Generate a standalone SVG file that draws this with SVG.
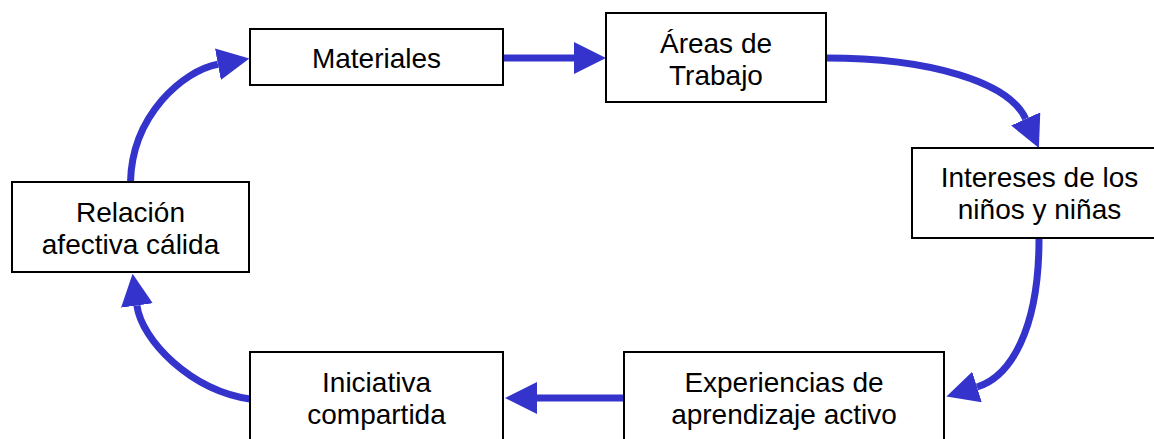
<svg xmlns="http://www.w3.org/2000/svg" width="1154" height="439" viewBox="0 0 1154 439">
<style>
.box{fill:#fff;stroke:#000;stroke-width:2}
.lbl{font-family:"Liberation Sans",Arial,sans-serif;font-size:28px;fill:#000;text-anchor:middle}
.con{fill:none;stroke:#3434CC;stroke-width:7;marker-end:url(#ah)}
</style>
<defs>
<marker id="ah" markerUnits="userSpaceOnUse" viewBox="0 0 32 32" markerWidth="32" markerHeight="32" refX="0" refY="16" orient="auto">
<path d="M0,0 L32,16 L0,32 z" fill="#3434CC"/>
</marker>
</defs>
<rect width="1154" height="439" fill="#fff"/>
<g id="connectors">
<path class="con" d="M503,58 L574,58"/>
<path class="con" d="M826,58 C930,58 1009,82 1025.7,118.9"/>
<path class="con" d="M1039,239 C1039,330 1010.4,376.6 977,387"/>
<path class="con" d="M624,398 L537,398"/>
<path class="con" d="M250,399 C190,390 141.6,340 136.9,305.5"/>
<path class="con" d="M130.5,182 C132,115 183.5,70.5 217.9,64.2"/>
</g>
<g id="materiales">
<rect class="box" x="250" y="29" width="253" height="56"/>
<text class="lbl" x="376.5" y="68">Materiales</text>
</g>
<g id="areas">
<rect class="box" x="606" y="13" width="220" height="89"/>
<text class="lbl" x="716" y="52.5">Áreas de</text>
<text class="lbl" x="716" y="85">Trabajo</text>
</g>
<g id="intereses">
<rect class="box" x="912" y="148" width="255" height="90"/>
<text class="lbl" x="1039.5" y="187">Intereses de los</text>
<text class="lbl" x="1039.5" y="219">niños y niñas</text>
</g>
<g id="experiencias">
<rect class="box" x="624" y="352" width="320" height="90"/>
<text class="lbl" x="784" y="391.5">Experiencias de</text>
<text class="lbl" x="784" y="423.5">aprendizaje activo</text>
</g>
<g id="iniciativa">
<rect class="box" x="250" y="352" width="253" height="90"/>
<text class="lbl" x="376.5" y="391.5">Iniciativa</text>
<text class="lbl" x="376.5" y="423.5">compartida</text>
</g>
<g id="relacion">
<rect class="box" x="12" y="182" width="237" height="90"/>
<text class="lbl" x="130.5" y="221.5">Relación</text>
<text class="lbl" x="130.5" y="253.5">afectiva cálida</text>
</g>
</svg>
